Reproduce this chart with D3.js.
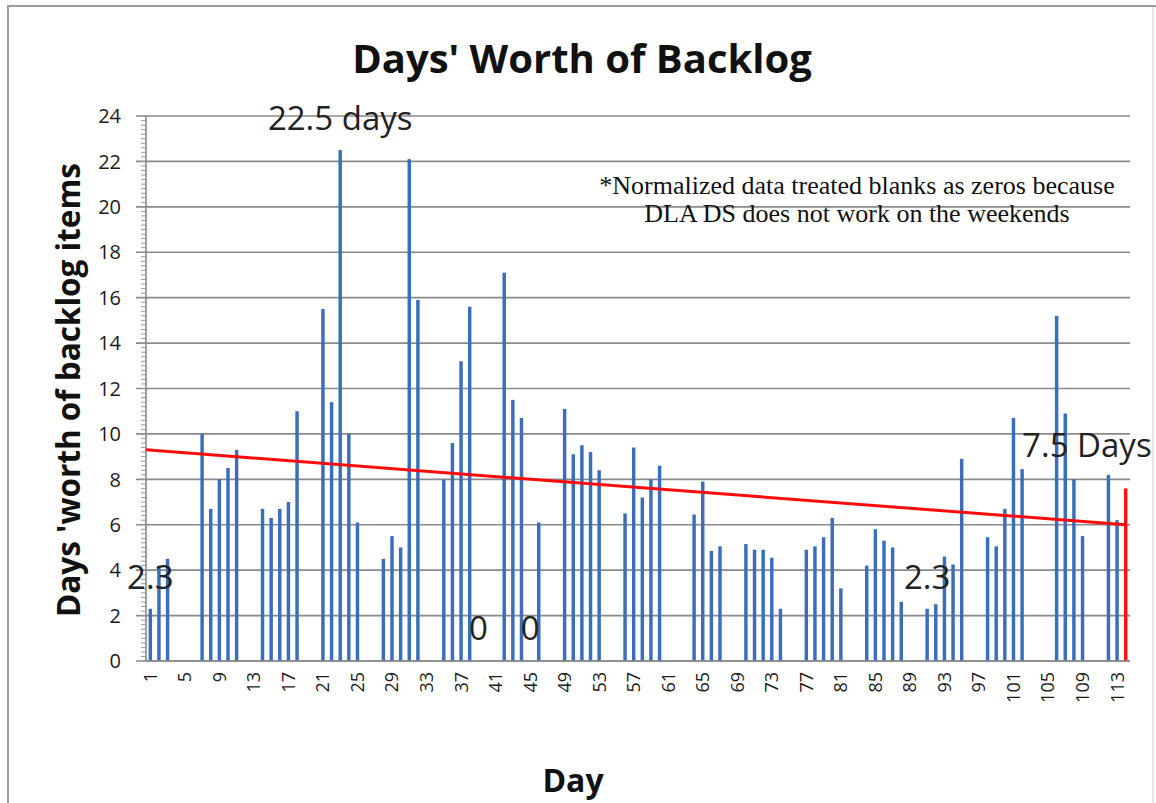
<!DOCTYPE html>
<html>
<head>
<meta charset="utf-8">
<script src="https://cdn.jsdelivr.net/npm/d3@7"></script>
<style>
  body { margin: 0; background: #fff; }
  svg { display: block; }
</style>
</head>
<body>
<svg id="chart" width="1156" height="803"></svg>
<script>
// days 1..114, blanks (weekends) are zero
const days = d3.range(1, 115);
const backlog = [
  2.3, 4.2, 4.5, 0, 0, 0, 10.0, 6.7, 8.0, 8.5,
  9.3, 0, 0, 6.7, 6.3, 6.7, 7.0, 11.0, 0, 0,
  15.5, 11.4, 22.5, 10.0, 6.1, 0, 0, 4.5, 5.5, 5.0,
  22.1, 15.9, 0, 0, 8.0, 9.6, 13.2, 15.6, 0, 0,
  0, 17.1, 11.5, 10.7, 0, 6.1, 0, 0, 11.1, 9.1,
  9.5, 9.2, 8.4, 0, 0, 6.5, 9.4, 7.2, 8.0, 8.6,
  0, 0, 0, 6.45, 7.9, 4.85, 5.05, 0, 0, 5.15,
  4.9, 4.9, 4.55, 2.3, 0, 0, 4.9, 5.05, 5.45, 6.3,
  3.2, 0, 0, 4.2, 5.8, 5.3, 5.0, 2.6, 0, 0,
  2.3, 2.5, 4.6, 4.25, 8.9, 0, 0, 5.45, 5.05, 6.7,
  10.7, 8.45, 0, 0, 0, 15.2, 10.9, 8.0, 5.5, 0,
  0, 8.2, 6.2, 7.6
];
const highlightDay = 114;

// linear trend at both ends
const trendDays = [0.5, 114];
const trendVals = [9.3, 6.0];

const yTicks = d3.range(0, 25, 2);
const xTickDays = d3.range(1, 115, 4);

const notes = [
  { day: 23, value: 22.5, text: "22.5 days", dy: -20, anchor: "middle" },
  { day: 1, value: 2.3, text: "2.3", dy: -20, anchor: "middle" },
  { day: 39, value: 0, text: "0", dy: -21, anchor: "middle" },
  { day: 45, value: 0, text: "0", dy: -21, anchor: "middle" },
  { day: 91, value: 2.3, text: "2.3", dy: -20, anchor: "middle" },
  { day: 102, value: 7.5, text: "7.5 Days", dy: -34, anchor: "start" }
];
const footnote = [
  "*Normalized data treated blanks as zeros because",
  "DLA DS does not work on the weekends"
];

const svg = d3.select("#chart");
const plotLeft = 146, plotRight = 1130, plotTop = 116, plotBottom = 661;

// outer frame (right side is only faint)
svg.append("line")
  .attr("x1", 1153).attr("x2", 1153)
  .attr("y1", 6).attr("y2", 803)
  .attr("stroke", "#e4e4e4")
  .attr("stroke-width", 2);
svg.append("path")
  .attr("d", "M8,803 V6 H1156")
  .attr("fill", "none")
  .attr("stroke", "#9c9c9c")
  .attr("stroke-width", 2);

const x = d3.scaleBand()
  .domain(days)
  .range([plotLeft, plotRight])
  .paddingInner(0.6)
  .paddingOuter(0.3);

const xl = d3.scaleLinear()
  .domain([0.5, 114.5])
  .range([plotLeft, plotRight]);

const y = d3.scaleLinear()
  .domain([0, 24])
  .range([plotBottom, plotTop]);

// gridlines
svg.append("g")
  .selectAll("line")
  .data(yTicks)
  .enter()
  .append("line")
  .attr("x1", plotLeft - 10)
  .attr("x2", plotRight)
  .attr("y1", d => y(d))
  .attr("y2", d => y(d))
  .attr("stroke", "#8a8a8a")
  .attr("stroke-width", 1.6);

// minor ticks on y axis
svg.append("g")
  .selectAll("line")
  .data(d3.range(0, 24.01, 0.2))
  .enter()
  .append("line")
  .attr("x1", plotLeft - 5)
  .attr("x2", plotLeft)
  .attr("y1", d => y(d))
  .attr("y2", d => y(d))
  .attr("stroke", "#9a9a9a")
  .attr("stroke-width", 1);

// y axis line
svg.append("line")
  .attr("x1", plotLeft).attr("x2", plotLeft)
  .attr("y1", plotTop).attr("y2", plotBottom)
  .attr("stroke", "#8a8a8a")
  .attr("stroke-width", 1.6);

// y tick labels
svg.append("g")
  .selectAll("text")
  .data(yTicks)
  .enter()
  .append("text")
  .attr("x", 121)
  .attr("y", d => y(d))
  .attr("dy", "0.36em")
  .attr("text-anchor", "end")
  .style("font-family", "'Open Sans', sans-serif")
  .style("font-size", "20px")
  .style("fill", "#1a1a1a")
  .text(d => d);

// bars
svg.append("g")
  .selectAll("rect")
  .data(days.filter((d, i) => backlog[i] > 0))
  .enter()
  .append("rect")
  .attr("x", d => x(d))
  .attr("width", x.bandwidth())
  .attr("y", d => y(backlog[d - 1]))
  .attr("height", d => plotBottom - y(backlog[d - 1]))
  .attr("fill", d => d === highlightDay ? "#ff1010" : "#3a6dbd");

// x axis line
svg.append("line")
  .attr("x1", plotLeft).attr("x2", plotRight)
  .attr("y1", plotBottom).attr("y2", plotBottom)
  .attr("stroke", "#8a8a8a")
  .attr("stroke-width", 1.6);

// x tick labels, rotated
svg.append("g")
  .selectAll("text")
  .data(xTickDays)
  .enter()
  .append("text")
  .attr("transform", d => "translate(" + (x(d) + x.bandwidth() / 2) + "," + (plotBottom + 11) + ") rotate(-90)")
  .attr("dy", "0.36em")
  .attr("text-anchor", "end")
  .style("font-family", "'Open Sans', sans-serif")
  .style("font-size", "18px")
  .style("fill", "#1a1a1a")
  .text(d => d);

// trend line
const trend = d3.line()
  .x(d => xl(d[0]))
  .y(d => y(d[1]));

svg.append("path")
  .datum(d3.zip(trendDays, trendVals))
  .attr("d", trend)
  .attr("fill", "none")
  .attr("stroke", "#ff0a0a")
  .attr("stroke-width", 3);

// annotations
svg.append("g")
  .selectAll("text")
  .data(notes)
  .enter()
  .append("text")
  .attr("x", d => x(d.day) + x.bandwidth() / 2)
  .attr("y", d => y(d.value) + d.dy)
  .attr("text-anchor", d => d.anchor)
  .style("font-family", "'Open Sans', sans-serif")
  .style("font-size", "33px")
  .style("fill", "#222")
  .text(d => d.text);

svg.append("g")
  .selectAll("text")
  .data(footnote)
  .enter()
  .append("text")
  .attr("x", 857)
  .attr("y", (d, i) => 194 + i * 28)
  .attr("text-anchor", "middle")
  .style("font-family", "'Liberation Serif', serif")
  .style("font-size", "26px")
  .style("fill", "#111")
  .text(d => d);

// titles
svg.append("text")
  .attr("x", 582)
  .attr("y", 73)
  .attr("text-anchor", "middle")
  .style("font-family", "'Open Sans', sans-serif")
  .style("font-weight", "bold")
  .style("font-size", "40px")
  .style("fill", "#111")
  .text("Days' Worth of Backlog");

svg.append("text")
  .attr("transform", "translate(80,390) rotate(-90)")
  .attr("text-anchor", "middle")
  .style("font-family", "'Open Sans', sans-serif")
  .style("font-weight", "bold")
  .style("font-size", "31.5px")
  .style("fill", "#111")
  .text("Days 'worth of backlog items");

svg.append("text")
  .attr("x", 573)
  .attr("y", 792)
  .attr("text-anchor", "middle")
  .style("font-family", "'Open Sans', sans-serif")
  .style("font-weight", "bold")
  .style("font-size", "32px")
  .style("fill", "#111")
  .text("Day");
</script>
</body>
</html>
